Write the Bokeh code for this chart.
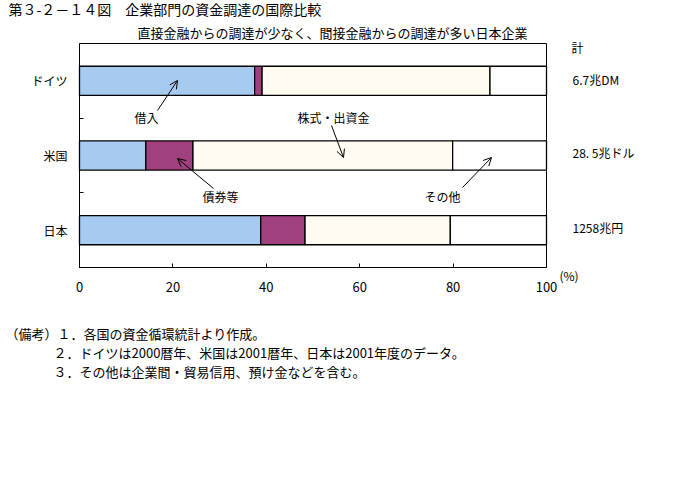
from bokeh.plotting import figure
from bokeh.models import (Range1d, FixedTicker, Label, Arrow, OpenHead,
                          ColumnDataSource, LinearAxis)
from bokeh.embed import file_html
from bokeh.resources import INLINE

countries = ["ドイツ", "米国", "日本"]
series = ["借入", "債券等", "株式・出資金", "その他"]
borrow = [37.5, 14.2, 38.8]
bonds = [1.6, 10.1, 9.5]
equity = [48.8, 55.6, 31.1]
other = [12.1, 20.1, 20.6]
totals = ["6.7兆DM", "28. 5兆ドル", "1258兆円"]
x_ticks = [0, 20, 40, 60, 80, 100]
colors = ["#A6CAF0", "#A0407F", "#FFFBF0", "#FFFFFF"]

FONT = "Noto Sans CJK JP"

n = len(countries)
ypos = [n - 0.5 - i for i in range(n)]   # ドイツ top, 日本 bottom

# pixel box of the chart area inside the 700x500 canvas
L, R, T, B = 79, 546, 43, 267
W, H = 700, 500
XMAX = x_ticks[-1]


def dx(px):
    return (px - L) / (R - L) * XMAX


def dy(py):
    return (B - py) / (B - T) * n


p = figure(width=W, height=H, output_backend="svg", toolbar_location=None,
           x_range=Range1d(dx(0), dx(W)), y_range=Range1d(dy(H), dy(0)),
           x_axis_location=None, y_axis_location=None, min_border=0)
p.background_fill_color = "white"
p.border_fill_color = "white"
p.outline_line_color = None
p.xgrid.visible = False
p.ygrid.visible = False

vals = [borrow, bonds, equity, other]
left = [0.0] * n
for name, v, c in zip(series, vals, colors):
    right = [a + b for a, b in zip(left, v)]
    src = ColumnDataSource(dict(y=ypos, left=list(left), right=right))
    p.hbar(y="y", left="left", right="right", height=0.39, source=src,
           fill_color=c, line_color="black", line_width=1.3)
    left = right

# chart box
p.quad(left=[x_ticks[0]], right=[XMAX], bottom=[0], top=[n],
       fill_color=None, line_color="black", line_width=1)

# x axis, drawn at y = 0
xa = LinearAxis(fixed_location=0, bounds=(x_ticks[0], XMAX),
                ticker=FixedTicker(ticks=x_ticks))
xa.major_tick_in = 4
xa.major_tick_out = 0
xa.minor_tick_line_color = None
xa.axis_line_color = "black"
xa.major_label_text_font = FONT
xa.major_label_text_font_size = "13px"
xa.major_label_text_color = "black"
xa.major_label_standoff = 14
p.add_layout(xa, "below")

# y axis, drawn at x = 0
ya = LinearAxis(fixed_location=0, bounds=(0, n),
                ticker=FixedTicker(ticks=ypos, minor_ticks=list(range(1, n))))
ya.major_label_overrides = {yv: c for yv, c in zip(ypos, countries)}
ya.major_tick_in = 0
ya.major_tick_out = 0
ya.minor_tick_in = 4
ya.minor_tick_out = 0
ya.minor_tick_line_color = "black"
ya.axis_line_color = "black"
ya.major_label_text_font = FONT
ya.major_label_text_font_size = "12px"
ya.major_label_text_color = "black"
ya.major_label_standoff = 12
p.add_layout(ya, "left")


def lab(px, py, text, size="12px", align="left"):
    p.add_layout(Label(x=dx(px), y=dy(py), text=text, text_font=FONT,
                       text_font_size=size, text_color="black",
                       text_align=align, text_baseline="middle"))


# titles
lab(8, 8, "第３-２－１４図　企業部門の資金調達の国際比較", "14px")
lab(137, 32, "直接金融からの調達が少なく、間接金融からの調達が多い日本企業", "13px")

# totals on the right
lab(571, 47, "計")
for yv, t in zip([79, 152, 227], totals):
    lab(572, yv, t)
lab(559, 275, "(%)")

# series annotations
lab(146, 117, series[0], align="center")
lab(333, 117, series[2], align="center")
lab(220, 196, series[1], align="center")
lab(442, 196, series[3], align="center")

arrows = [((157, 110), (177, 80)), ((331, 125), (343, 157)),
          ((213, 188), (177, 158)), ((462, 187), (491, 157))]
for (x0, y0), (x1, y1) in arrows:
    p.add_layout(Arrow(end=OpenHead(size=8, line_width=1, line_color="black"),
                       x_start=dx(x0), y_start=dy(y0), x_end=dx(x1), y_end=dy(y1),
                       line_color="black", line_width=1))

# notes
lab(5, 333, "（備考）１．各国の資金循環統計より作成。", "13px")
lab(53, 352, "２．ドイツは2000暦年、米国は2001暦年、日本は2001年度のデータ。", "13px")
lab(53, 371, "３．その他は企業間・貿易信用、預け金などを含む。", "13px")

open("out.html", "w").write(file_html(p, INLINE))
